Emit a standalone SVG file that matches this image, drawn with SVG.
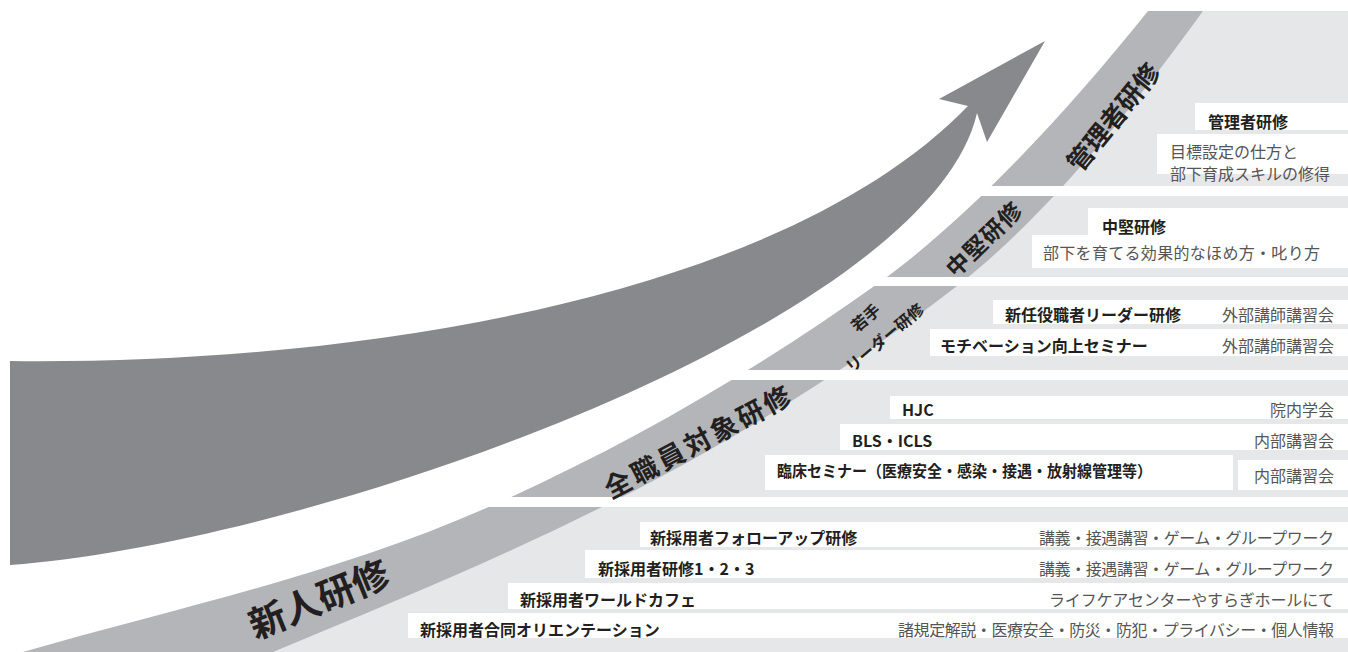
<svg xmlns="http://www.w3.org/2000/svg" width="1348" height="652" viewBox="0 0 1348 652">
<defs>
<style>
.arrow{fill:#88898c}
.band{fill:#b3b5b8}
.lg{fill:#e6e7e8}
.wb{fill:#ffffff}
.gap{fill:#ffffff}
.b{font-family:"Noto Sans CJK JP","Noto Sans",sans-serif;font-weight:700;fill:#231f20;font-size:16px}
.r{font-family:"Noto Sans CJK JP","Noto Sans",sans-serif;font-weight:400;fill:#555555;font-size:16px}
.bl{font-family:"Noto Sans CJK JP","Noto Sans",sans-serif;font-weight:700;fill:#231f20;text-anchor:middle;dominant-baseline:central}
.end{text-anchor:end}
</style>
</defs>
<rect width="1348" height="652" fill="#ffffff"/>
<g id="stairs">
<path class="band" d="M 23,652 C 183,606 340,574 500,502 C 627,445 753,373 880,282 C 969,218 1068,111 1148,11 L 1348,11 L 1348,652 Z"/>
<path class="lg" d="M 1203,11 C 1133,108 1047,216 957,286 C 857,364 732,442 612,502 C 492,562 393,602 273,652 L 1348,652 L 1348,11 Z"/>
<rect class="gap" x="975" y="186" width="373" height="10"/>
<rect class="gap" x="865" y="277" width="483" height="9"/>
<rect class="gap" x="725" y="370" width="623" height="10"/>
<rect class="gap" x="470" y="497" width="878" height="10"/>
</g>
<g id="connectors">
<path id="growth-arrow" class="arrow" d="M 10,361 C 350,365 780,300 968,106 L 939,99 L 1045,41 L 987,142 L 977,113 C 930,320 330,540 10,565 Z"/>
</g>
<g id="level-kanrisha">
<text class="bl" font-size="26" transform="translate(1112,116) rotate(-51)">管理者研修</text>
<g id="kanrisha-label"><rect class="wb" x="1195" y="103" width="153" height="27"/><text class="b" x="1208" y="128" font-size="17">管理者研修</text></g>
<g id="kanrisha-desc"><rect class="wb" x="1157" y="134" width="191" height="40"/><text class="r" x="1170" y="158" font-size="17">目標設定の仕方と</text><text class="r" x="1170" y="180" font-size="17">部下育成スキルの修得</text></g>
</g>
<g id="level-chuken">
<text class="bl" font-size="23" letter-spacing="1" transform="translate(983,238) rotate(-44)">中堅研修</text>
<g id="chuken-label"><rect class="wb" x="1088" y="208" width="260" height="27"/><text class="b" x="1102" y="233" font-size="17">中堅研修</text></g>
<g id="chuken-desc"><rect class="wb" x="1032" y="235" width="316" height="33"/><text class="r" x="1043" y="259" textLength="277">部下を育てる効果的なほめ方・叱り方</text></g>
</g>
<g id="level-wakate">
<text class="bl" font-size="16" transform="translate(865,317) rotate(-40)">若手</text>
<text class="bl" font-size="16" transform="translate(884,337) rotate(-40)">リーダー研修</text>
<g id="wakate-row1"><rect class="wb" x="993" y="300" width="355" height="24"/><text class="b" x="1005" y="321">新任役職者リーダー研修</text><text class="r end" x="1334" y="321" font-size="17.5">外部講師講習会</text></g>
<g id="wakate-row2"><rect class="wb" x="930" y="329" width="418" height="27"/><text class="b" x="940" y="352">モチベーション向上セミナー</text><text class="r end" x="1334" y="352" font-size="17.5">外部講師講習会</text></g>
</g>
<g id="level-zenshokuin">
<text class="bl" font-size="27" letter-spacing="3" transform="translate(698,440) rotate(-28)">全職員対象研修</text>
<g id="zen-row1"><rect class="wb" x="890" y="396" width="458" height="23"/><text class="b" x="902" y="416">HJC</text><text class="r end" x="1334" y="416" font-size="17">院内学会</text></g>
<g id="zen-row2"><rect class="wb" x="840" y="424" width="508" height="26"/><text class="b" x="852" y="447">BLS・ICLS</text><text class="r end" x="1334" y="447" font-size="17">内部講習会</text></g>
<g id="zen-row3"><rect class="wb" x="765" y="455" width="468" height="35"/><rect class="wb" x="1238" y="460" width="110" height="30"/><text class="b" x="777" y="477" textLength="375" lengthAdjust="spacingAndGlyphs">臨床セミナー（医療安全・感染・接遇・放射線管理等）</text><text class="r end" x="1334" y="482" font-size="17">内部講習会</text></g>
</g>
<g id="level-shinjin">
<text class="bl" font-size="37" transform="translate(318,597) rotate(-22)">新人研修</text>
<g id="shin-row1"><rect class="wb" x="640" y="522" width="708" height="25"/><text class="b" x="650" y="544">新採用者フォローアップ研修</text><text class="r end" x="1334" y="544" textLength="295">講義・接遇講習・ゲーム・グループワーク</text></g>
<g id="shin-row2"><rect class="wb" x="585" y="550" width="763" height="28"/><text class="b" x="598" y="575">新採用者研修1・2・3</text><text class="r end" x="1334" y="575" textLength="295">講義・接遇講習・ゲーム・グループワーク</text></g>
<g id="shin-row3"><rect class="wb" x="508" y="583" width="840" height="26"/><text class="b" x="520" y="606">新採用者ワールドカフェ</text><text class="r end" x="1334" y="606" textLength="285">ライフケアセンターやすらぎホールにて</text></g>
<g id="shin-row4"><rect class="wb" x="408" y="613" width="940" height="25"/><text class="b" x="420" y="636">新採用者合同オリエンテーション</text><text class="r end" x="1334" y="636" textLength="436">諸規定解説・医療安全・防災・防犯・プライバシー・個人情報</text></g>
</g>
</svg>
